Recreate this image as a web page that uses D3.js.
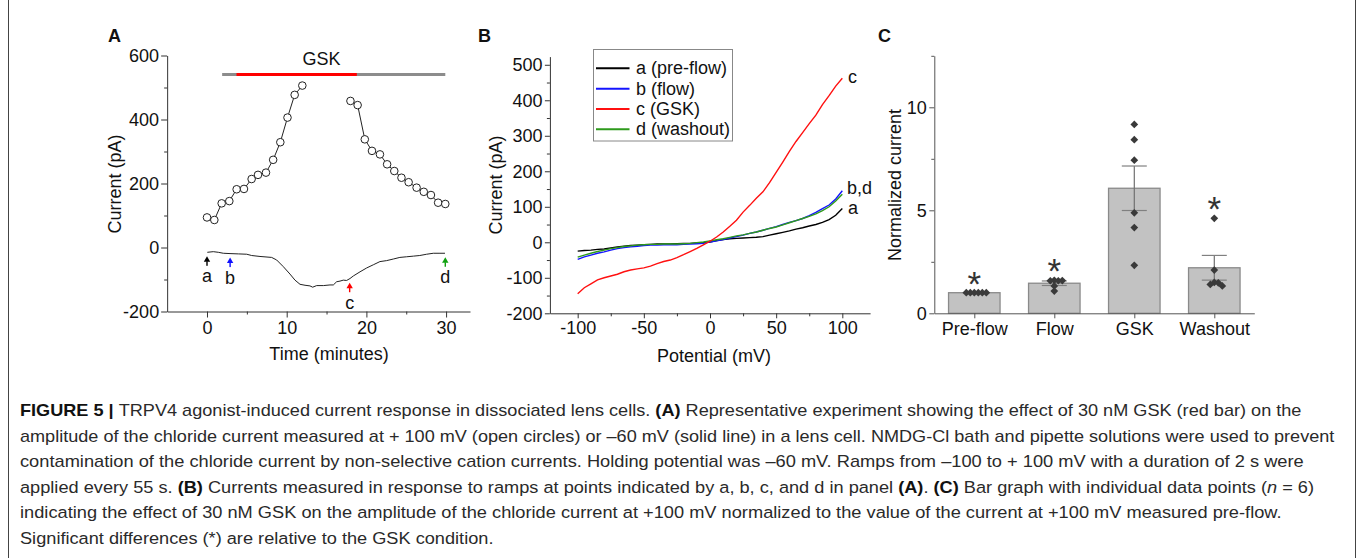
<!DOCTYPE html>
<html><head><meta charset="utf-8">
<script src="https://cdn.jsdelivr.net/npm/d3@7"></script>
<style>
html,body{margin:0;padding:0;background:#fff;}
svg{display:block;font-family:"Liberation Sans",Arial,Helvetica,sans-serif;}
</style></head><body>
<svg id="fig" width="1357" height="558"></svg>
<script>
// ---------- Panel A: time course ----------
// current at +100 mV (open circles), before and after the GSK gap
const upTimes1 = [0, 0.92, 1.84, 2.8, 3.72, 4.64, 5.6, 6.4, 7.4, 8.3, 9.2, 10.1, 11.0, 11.96];
const upVals1  = [94, 86, 138, 145, 182, 183, 214, 227, 234, 274, 329, 406, 477, 506];
const upTimes2 = [18.0, 18.9, 19.8, 20.7, 21.7, 22.6, 23.5, 24.4, 25.3, 26.3, 27.2, 28.1, 29.0, 29.9];
const upVals2  = [458, 445, 338, 302, 291, 260, 239, 218, 204, 187, 174, 164, 140, 136];
// current at -60 mV (solid line)
const traceTimes = [0.04, 0.79, 1.42, 2.05, 2.89, 3.93, 4.98, 5.6, 6.65, 8.11, 8.74, 9.58, 10.41, 11.04, 11.67, 12.3, 12.92, 13.26, 13.76, 14.6, 15.43, 15.85, 16.27, 16.69, 17.1, 17.52, 17.94, 18.36, 19.2, 20.03, 20.87, 21.7, 22.54, 23.38, 24.2, 25.05, 25.9, 26.7, 27.56, 28.4, 29.23, 29.86];
const traceVals  = [-15, -13, -15, -18, -19, -20, -21, -25, -28, -31, -39, -60, -83, -102, -115, -118, -120, -124, -119, -119, -117, -117, -107, -105, -102, -103, -97, -89, -76, -64, -54, -44, -41, -36, -31, -29, -27, -25, -21, -18, -18, -18];
// perfusion bar (minutes): whole recording and GSK application
const barSpan = [1.9, 29.9];
const gskSpan = [3.7, 18.8];
const barLevel = 541;
// ramp markers
const markTimes  = [0, 2.9, 17.9, 29.9];
const markLabels = ["a", "b", "c", "d"];
const markColors = ["#000000", "#1010ff", "#ff0000", "#10a010"];
const xTicksA = [0, 10, 20, 30], xMinorA = [5, 15, 25];
const yTicksA = [-200, 0, 200, 400, 600], yMinorA = [-100, 100, 300, 500];

// ---------- Panel B: I-V ramps ----------
const potential = [-100,-95,-90,-85,-80,-75,-70,-65,-60,-55,-50,-45,-40,-35,-30,-25,-20,-15,-10,-5,0,5,10,15,20,25,30,35,40,45,50,55,60,65,70,75,80,85,90,95,100];
const ivA = [-25,-23,-22,-20,-19,-16,-13,-11,-9,-8,-7,-6,-5,-5,-5,-4,-3,-3,-2,-1,1,5,8,10,11,12,13,14,16,20,24,28,32,37,41,46,50,56,64,76,95];
const ivB = [-48,-41,-36,-31,-27,-22,-18,-15,-13,-11,-9,-8,-8,-7,-7,-7,-6,-5,-4,-3,1,4,8,12,16,20,25,29,34,39,44,50,56,61,67,75,84,95,105,122,145];
const ivC = [-145,-128,-117,-106,-100,-95,-90,-83,-78,-75,-72,-67,-60,-54,-50,-43,-35,-26,-17,-7,3,15,29,45,62,85,104,124,142,168,197,226,256,284,309,334,358,388,413,440,462];
const ivD = [-42,-36,-31,-26,-22,-18,-15,-12,-10,-8,-7,-6,-6,-5,-5,-5,-4,-3,-1,1,4,7,10,14,18,21,25,29,34,39,43,49,55,61,67,73,80,89,100,116,135];
const ivNames  = ["a (pre-flow)", "b (flow)", "c (GSK)", "d (washout)"];
const ivColors = ["#000000", "#1414ff", "#ff1010", "#2e9a1c"];
const xTicksB = [-100, -50, 0, 50, 100], xMinorB = [-75, -25, 25, 75];
const yTicksB = [-200, -100, 0, 100, 200, 300, 400, 500], yMinorB = [-150, -50, 50, 150, 250, 350, 450];

// ---------- Panel C: normalized current ----------
const groups = ["Pre-flow", "Flow", "GSK", "Washout"];
const means  = [1.0, 1.46, 6.07, 2.21];
const sems   = [0, 0.11, 1.08, 0.60];
const ptsPre   = [1.0, 1.0, 1.0, 1.0, 1.0, 1.0];
const ptsFlow  = [1.60, 1.58, 1.58, 1.59, 1.33, 1.08];
const ptsGsk   = [9.17, 8.43, 7.43, 4.88, 4.16, 2.33];
const ptsWash  = [4.61, 2.10, 1.50, 1.48, 1.40, 1.33];
const signif   = ["*", "*", "", "*"];
const yTicksC = [0, 5, 10], yMinorC = [2.5, 7.5, 12.5];

// ---------------------------------------------------------------
const svg = d3.select("#fig");
const FONT = '"Liberation Sans",Arial,Helvetica,sans-serif';
const AX = "#333";

function styleAxis(g, size) {
  g.attr("font-size", size || 18).attr("font-family", FONT);
  g.select(".domain").attr("stroke", AX).attr("stroke-width", 1);
  g.selectAll(".tick line").attr("stroke", AX).attr("stroke-width", 1);
  g.selectAll(".tick text").attr("fill", "#111");
  return g;
}
function minor(g) { g.select(".domain").remove(); g.selectAll(".tick line").attr("stroke", AX); return g; }
const fmt = d => String(d);

// figure frame
svg.append("line").attr("x1", 8.5).attr("x2", 8.5).attr("y1", 0).attr("y2", 558).attr("stroke", "#444");
svg.append("line").attr("x1", 1355.5).attr("x2", 1355.5).attr("y1", 0).attr("y2", 558).attr("stroke", "#444");

// panel letters
[["A", 108], ["B", 478], ["C", 878]].forEach(([t, x]) =>
  svg.append("text").attr("x", x).attr("y", 41.5).attr("font-size", 18).attr("font-weight", "bold").attr("fill", "#111").text(t));

// ================= Panel A =================
const xA = d3.scaleLinear().domain([-5, 33]).range([167.15, 470]);
const yA = d3.scaleLinear().domain([-200, 600]).range([311.5, 55.5]);
const gA = svg.append("g");

styleAxis(gA.append("g").attr("transform", `translate(0,${yA(-200)})`)
  .call(d3.axisBottom(xA).tickValues(xTicksA).tickFormat(fmt).tickSize(6).tickPadding(4).tickSizeOuter(0)));
minor(gA.append("g").attr("transform", `translate(0,${yA(-200)})`)
  .call(d3.axisBottom(xA).tickValues(xMinorA).tickFormat("").tickSize(3)));
styleAxis(gA.append("g").attr("transform", `translate(${xA(-5)},0)`)
  .call(d3.axisLeft(yA).tickValues(yTicksA).tickFormat(fmt).tickSize(6).tickPadding(2).tickSizeOuter(0)));
minor(gA.append("g").attr("transform", `translate(${xA(-5)},0)`)
  .call(d3.axisLeft(yA).tickValues(yMinorA).tickFormat("").tickSize(3)));

gA.append("text").attr("x", 329).attr("y", 359.5).attr("text-anchor", "middle").attr("font-size", 18).attr("fill", "#111").text("Time (minutes)");
gA.append("text").attr("transform", "translate(121,184) rotate(-90)").attr("text-anchor", "middle").attr("font-size", 18).attr("fill", "#111").text("Current (pA)");

// GSK bar
gA.append("line").attr("x1", xA(barSpan[0])).attr("x2", xA(barSpan[1])).attr("y1", yA(barLevel)).attr("y2", yA(barLevel))
  .attr("stroke", "#8c8c8c").attr("stroke-width", 3);
gA.append("line").attr("x1", xA(gskSpan[0])).attr("x2", xA(gskSpan[1])).attr("y1", yA(barLevel)).attr("y2", yA(barLevel))
  .attr("stroke", "#ff0000").attr("stroke-width", 3);
gA.append("text").attr("x", 321.5).attr("y", 65).attr("text-anchor", "middle").attr("font-size", 18).attr("fill", "#111").text("GSK");

// -60 mV trace
const traceData = traceTimes.map((t, i) => [t, traceVals[i]]);
gA.append("path").datum(traceData).attr("fill", "none").attr("stroke", "#222").attr("stroke-width", 1)
  .attr("d", d3.line().x(d => xA(d[0])).y(d => yA(d[1])));

// +100 mV circles
[[upTimes1, upVals1], [upTimes2, upVals2]].forEach(([ts, vs]) => {
  const data = ts.map((t, i) => [t, vs[i]]);
  gA.append("path").datum(data).attr("fill", "none").attr("stroke", "#222").attr("stroke-width", 1)
    .attr("d", d3.line().x(d => xA(d[0])).y(d => yA(d[1])));
  gA.selectAll(null).data(data).enter().append("circle")
    .attr("cx", d => xA(d[0])).attr("cy", d => yA(d[1])).attr("r", 3.8)
    .attr("fill", "#fff").attr("stroke", "#222").attr("stroke-width", 1);
});

// ramp markers under the trace
function traceAt(t) {
  const i = Math.max(1, Math.min(traceTimes.length - 1, d3.bisectLeft(traceTimes, t)));
  const t0 = traceTimes[i - 1], t1 = traceTimes[i];
  const f = Math.max(0, Math.min(1, (t - t0) / (t1 - t0)));
  return traceVals[i - 1] + f * (traceVals[i] - traceVals[i - 1]);
}
markTimes.forEach((t, i) => {
  const x = xA(t), tip = yA(traceAt(t)) + 4;
  const g = gA.append("g").attr("transform", `translate(${x},${tip})`);
  g.append("path").attr("d", "M0,0L-3.2,5.5L3.2,5.5Z").attr("fill", markColors[i]);
  g.append("rect").attr("x", -0.7).attr("y", 5).attr("width", 1.4).attr("height", 4.5).attr("fill", markColors[i]);
  gA.append("text").attr("x", x).attr("y", tip + 26).attr("text-anchor", "middle").attr("font-size", 18).attr("fill", "#111").text(markLabels[i]);
});

// ================= Panel B =================
const xB = d3.scaleLinear().domain([-121, 121]).range([549.9, 870.1]);
const yB = d3.scaleLinear().domain([-200, 523]).range([313.3, 56.6]);
const gB = svg.append("g");
styleAxis(gB.append("g").attr("transform", `translate(0,${yB(-200)})`)
  .call(d3.axisBottom(xB).tickValues(xTicksB).tickFormat(fmt).tickSize(5).tickPadding(3).tickSizeOuter(0)));
minor(gB.append("g").attr("transform", `translate(0,${yB(-200)})`)
  .call(d3.axisBottom(xB).tickValues(xMinorB).tickFormat("").tickSize(3)));
styleAxis(gB.append("g").attr("transform", `translate(${xB(-121)},0)`)
  .call(d3.axisLeft(yB).tickValues(yTicksB).tickFormat(fmt).tickSize(5).tickPadding(2.3).tickSizeOuter(0)));
minor(gB.append("g").attr("transform", `translate(${xB(-121)},0)`)
  .call(d3.axisLeft(yB).tickValues(yMinorB).tickFormat("").tickSize(3)));

gB.append("text").attr("x", 714).attr("y", 362).attr("text-anchor", "middle").attr("font-size", 18).attr("fill", "#111").text("Potential (mV)");
gB.append("text").attr("transform", "translate(502,185) rotate(-90)").attr("text-anchor", "middle").attr("font-size", 18).attr("fill", "#111").text("Current (pA)");

const lineB = d3.line().x((d, i) => xB(potential[i])).y(d => yB(d));
const ivSeries = [ivA, ivB, ivC, ivD];
[0, 1, 3, 2].forEach(k => {
  gB.append("path").datum(ivSeries[k]).attr("fill", "none").attr("stroke", ivColors[k]).attr("stroke-width", 1.4).attr("d", lineB);
});
// end-of-trace labels
gB.append("text").attr("x", 848).attr("y", 82.5).attr("font-size", 18).attr("fill", "#111").text("c");
gB.append("text").attr("x", 847).attr("y", 193.5).attr("font-size", 18).attr("fill", "#111").text("b,d");
gB.append("text").attr("x", 848).attr("y", 213.5).attr("font-size", 18).attr("fill", "#111").text("a");

// legend
const leg = gB.append("g");
leg.append("rect").attr("x", 593.5).attr("y", 49.5).attr("width", 139).attr("height", 91.5)
  .attr("fill", "#fff").attr("stroke", "#888").attr("stroke-width", 1);
ivNames.forEach((n, i) => {
  const cy = 68.3 + i * 20.35;
  leg.append("line").attr("x1", 596).attr("x2", 629.5).attr("y1", cy).attr("y2", cy).attr("stroke", ivColors[i]).attr("stroke-width", 2);
  leg.append("text").attr("x", 636).attr("y", cy + 6).attr("font-size", 18).attr("fill", "#111").text(n);
});

// ================= Panel C =================
const xC = d3.scalePoint().domain(groups).range([934.3, 1254.3]).padding(0.5);
const yC = d3.scaleLinear().domain([0, 12.5]).range([313.3, 55.8]);
const gC = svg.append("g");
const barW = 51.5;
const CAX = "#555";

gC.selectAll(null).data(groups).enter().append("rect")
  .attr("x", d => xC(d) - barW / 2).attr("width", barW)
  .attr("y", (d, i) => yC(means[i])).attr("height", (d, i) => yC(0) - yC(means[i]))
  .attr("fill", "#c2c2c2").attr("stroke", "#8a8a8a").attr("stroke-width", 1.3);

// error bars
groups.forEach((g, i) => {
  if (!sems[i]) return;
  const x = xC(g), lo = yC(means[i] - sems[i]), hi = yC(means[i] + sems[i]);
  gC.append("line").attr("x1", x).attr("x2", x).attr("y1", lo).attr("y2", hi).attr("stroke", "#707070").attr("stroke-width", 1.2);
  [lo, hi].forEach(y => gC.append("line").attr("x1", x - 12.5).attr("x2", x + 12.5).attr("y1", y).attr("y2", y)
    .attr("stroke", "#808080").attr("stroke-width", 1.2));
});

// individual points, dodged sideways where they overlap
const diamond = d3.symbol().type(d3.symbolSquare).size(30);
[ptsPre, ptsFlow, ptsGsk, ptsWash].forEach((pts, gi) => {
  const cx = xC(groups[gi]);
  const placed = [];
  const step = 4;
  pts.forEach(v => {
    const y = yC(v);
    let off = 0;
    for (let k = 0; k < 20; k++) {
      off = k === 0 ? 0 : (k % 2 ? 1 : -1) * Math.ceil(k / 2) * step;
      if (!placed.some(p => Math.abs(p[0] - off) < step - 0.01 && Math.abs(p[1] - y) < step)) break;
    }
    placed.push([off, y]);
    gC.append("path").attr("d", diamond).attr("transform", `translate(${cx + off},${y}) rotate(45)`).attr("fill", "#3a3a3a");
  });
  if (signif[gi]) {
    const top = yC(d3.max(pts));
    gC.append("text").attr("x", cx).attr("y", top + 3).attr("text-anchor", "middle")
      .attr("font-size", 35).attr("fill", "#333").text(signif[gi]);
  }
});

styleAxis(gC.append("g").attr("transform", `translate(0,${yC(0)})`)
  .call(d3.axisBottom(xC).tickSize(5).tickPadding(4).tickSizeOuter(0)));
styleAxis(gC.append("g").attr("transform", `translate(934.3,0)`)
  .call(d3.axisLeft(yC).tickValues(yTicksC).tickFormat(fmt).tickSize(5).tickPadding(2.5).tickSizeOuter(0)));
minor(gC.append("g").attr("transform", `translate(934.3,0)`)
  .call(d3.axisLeft(yC).tickValues(yMinorC).tickFormat("").tickSize(3)));
gC.selectAll(".domain, .tick line").attr("stroke", CAX);
gC.append("text").attr("transform", "translate(900.5,185) rotate(-90)").attr("text-anchor", "middle").attr("font-size", 18).attr("fill", "#111").text("Normalized current");

// ================= Caption =================
const caption = [
  [["FIGURE 5 | ", "b"], ["TRPV4 agonist-induced current response in dissociated lens cells. ", ""], ["(A)", "b"], [" Representative experiment showing the effect of 30 nM GSK (red bar) on the", ""]],
  [["amplitude of the chloride current measured at + 100 mV (open circles) or \u201360 mV (solid line) in a lens cell. NMDG-Cl bath and pipette solutions were used to prevent", ""]],
  [["contamination of the chloride current by non-selective cation currents. Holding potential was \u201360 mV. Ramps from \u2013100 to + 100 mV with a duration of 2 s were", ""]],
  [["applied every 55 s. ", ""], ["(B)", "b"], [" Currents measured in response to ramps at points indicated by a, b, c, and d in panel ", ""], ["(A)", "b"], [". ", ""], ["(C)", "b"], [" Bar graph with individual data points (", ""], ["n", "i"], [" = 6)", ""]],
  [["indicating the effect of 30 nM GSK on the amplitude of the chloride current at +100 mV normalized to the value of the current at +100 mV measured pre-flow.", ""]],
  [["Significant differences (*) are relative to the GSK condition.", ""]]
];
const capRight = [1302, 1335, 1305, 1315, 1282, null];
const capX = 20, capY0 = 416, capStep = 25.6;
const ks = [];
const capTexts = caption.map((runs, li) => {
  const t = svg.append("text").attr("font-size", 17).attr("fill", "#2a2a2a");
  runs.forEach(([s, st]) => {
    const ts = t.append("tspan").text(s);
    if (st === "b") ts.attr("font-weight", "bold").attr("fill", "#111");
    if (st === "i") ts.attr("font-style", "italic");
  });
  const w = t.node().getComputedTextLength();
  if (capRight[li]) ks.push((capRight[li] - capX) / w);
  return t;
});
const kAvg = d3.mean(ks);
capTexts.forEach((t, li) => {
  const w = t.node().getComputedTextLength();
  const k = capRight[li] ? (capRight[li] - capX) / w : kAvg;
  t.attr("transform", `translate(${capX},${capY0 + li * capStep}) scale(${k},1)`);
});
</script>
</body></html>
